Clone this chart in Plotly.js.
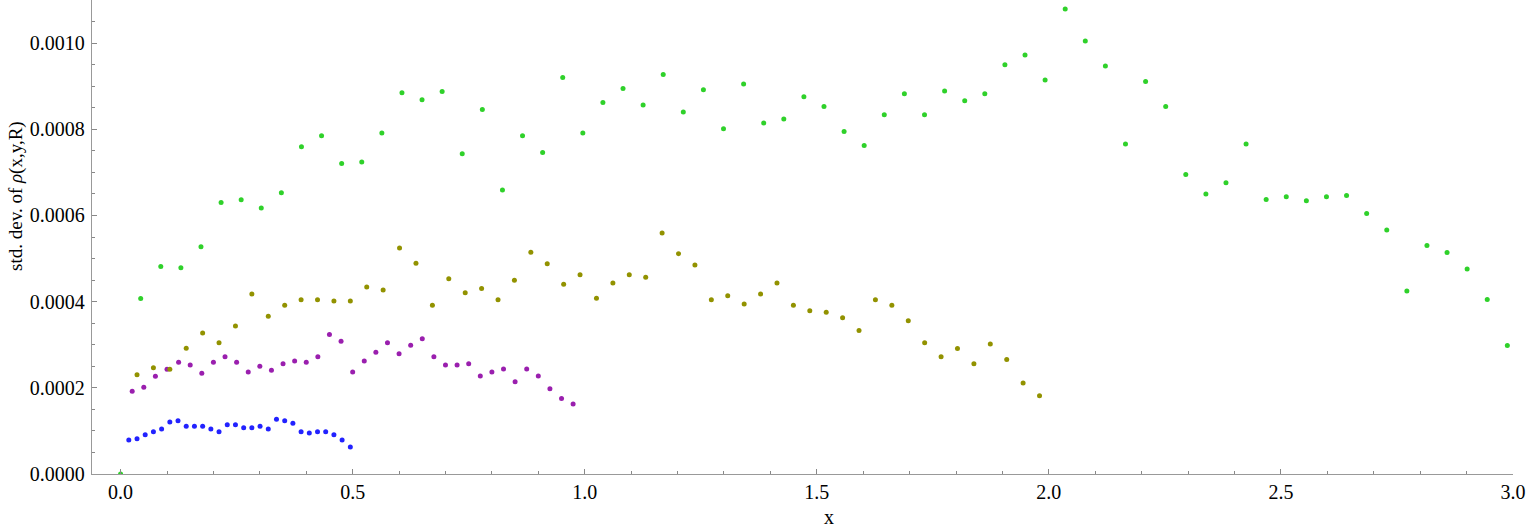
<!DOCTYPE html>
<html>
<head>
<meta charset="utf-8">
<script src="https://cdn.plot.ly/plotly-3.0.1.min.js"></script>
<style>
  html, body { margin: 0; padding: 0; background: #ffffff; }
  #chart { width: 1528px; height: 531px; }
</style>
</head>
<body>
<div id="chart"></div>
<script>
// ---- data ----
const blueX = [0.0177, 0.0354, 0.0530, 0.0707, 0.0884, 0.1061, 0.1237, 0.1414, 0.1591, 0.1768,
  0.1945, 0.2121, 0.2298, 0.2475, 0.2652, 0.2828, 0.3005, 0.3182, 0.3359, 0.3536,
  0.3712, 0.3889, 0.4066, 0.4243, 0.4419, 0.4596, 0.4773, 0.4950];
const blueY = [0.0000789, 0.0000819, 0.0000912, 0.0000982, 0.0001044, 0.0001206, 0.0001237, 0.0001106,
  0.0001106, 0.0001106, 0.0001044, 0.0000982, 0.0001144, 0.0001144, 0.0001075, 0.0001075,
  0.0001106, 0.0001044, 0.0001268, 0.0001237, 0.0001175, 0.0000982, 0.0000951, 0.0000982,
  0.0000982, 0.0000912, 0.0000789, 0.0000626];

const purpleX = [0.025, 0.050, 0.075, 0.100, 0.125, 0.150, 0.175, 0.200, 0.225, 0.250,
  0.275, 0.300, 0.325, 0.350, 0.375, 0.400, 0.425, 0.450, 0.475, 0.500,
  0.525, 0.550, 0.575, 0.600, 0.625, 0.650, 0.675, 0.700, 0.725, 0.750,
  0.775, 0.800, 0.825, 0.850, 0.875, 0.900, 0.925, 0.950, 0.975];
const purpleY = [0.0001918, 0.0002011, 0.0002266, 0.0002429, 0.0002595, 0.0002530, 0.0002336, 0.0002595,
  0.0002723, 0.0002595, 0.0002368, 0.0002498, 0.0002409, 0.0002560, 0.0002625, 0.0002595,
  0.0002723, 0.0003240, 0.0003078, 0.0002368, 0.0002625, 0.0002823, 0.0003048, 0.0002793,
  0.0002985, 0.0003141, 0.0002723, 0.0002530, 0.0002530, 0.0002560, 0.0002275, 0.0002368,
  0.0002437, 0.0002143, 0.0002437, 0.0002275, 0.0001980, 0.0001755, 0.0001625];

const oliveX = [0.0354, 0.0707, 0.1061, 0.1414, 0.1768, 0.2121, 0.2475, 0.2828, 0.3182, 0.3536,
  0.3889, 0.4243, 0.4596, 0.4950, 0.5303, 0.5657, 0.6010, 0.6364, 0.6718, 0.7071,
  0.7425, 0.7778, 0.8132, 0.8485, 0.8839, 0.9192, 0.9546, 0.9899, 1.0253, 1.0607,
  1.0960, 1.1314, 1.1667, 1.2021, 1.2374, 1.2728, 1.3081, 1.3435, 1.3789, 1.4142,
  1.4496, 1.4849, 1.5203, 1.5556, 1.5910, 1.6263, 1.6617, 1.6971, 1.7324, 1.7678,
  1.8031, 1.8385, 1.8738, 1.9092, 1.9445, 1.9799];
const oliveY = [0.0002305, 0.0002467, 0.0002433, 0.0002916, 0.0003273, 0.0003048, 0.0003435, 0.0004178,
  0.0003658, 0.0003914, 0.0004046, 0.0004046, 0.0004016, 0.0004016, 0.0004341, 0.0004271,
  0.0005246, 0.0004889, 0.0003914, 0.0004533, 0.0004208, 0.0004306, 0.0004046, 0.0004494,
  0.0005144, 0.0004882, 0.0004401, 0.0004626, 0.0004076, 0.0004434, 0.0004626, 0.0004564,
  0.0005594, 0.0005114, 0.0004851, 0.0004046, 0.0004139, 0.0003946, 0.0004178, 0.0004434,
  0.0003914, 0.0003791, 0.0003751, 0.0003628, 0.0003333, 0.0004046, 0.0003914, 0.0003557,
  0.0003046, 0.0002722, 0.0002914, 0.0002559, 0.0003016, 0.0002659, 0.0002111, 0.0001817];

const greenX = [0, 0.0433, 0.0866, 0.1299, 0.1732, 0.2165, 0.2598, 0.3031, 0.3464, 0.3897, 0.4330,
  0.4763, 0.5196, 0.5629, 0.6062, 0.6495, 0.6928, 0.7361, 0.7794, 0.8227, 0.8660,
  0.9093, 0.9526, 0.9959, 1.0392, 1.0825, 1.1258, 1.1691, 1.2124, 1.2557, 1.2990,
  1.3423, 1.3856, 1.4289, 1.4722, 1.5155, 1.5588, 1.6021, 1.6454, 1.6887, 1.7321,
  1.7754, 1.8187, 1.8620, 1.9053, 1.9486, 1.9919, 2.0352, 2.0785, 2.1218, 2.1651,
  2.2084, 2.2517, 2.2950, 2.3383, 2.3816, 2.4249, 2.4682, 2.5115, 2.5548, 2.5981,
  2.6414, 2.6847, 2.7280, 2.7713, 2.8146, 2.8579, 2.9012, 2.9445, 2.9878];
const greenY = [0, 0.0004074, 0.0004817, 0.0004787, 0.0005274, 0.0006302, 0.0006364, 0.0006172, 0.0006527,
  0.0007594, 0.0007849, 0.0007206, 0.0007239, 0.0007912, 0.0008847, 0.0008685, 0.0008877,
  0.0007432, 0.0008459, 0.0006589, 0.0007849, 0.0007462, 0.0009202, 0.0007912, 0.0008622,
  0.0008947, 0.0008561, 0.0009271, 0.0008399, 0.0008916, 0.0008012, 0.0009049, 0.0008144,
  0.0008237, 0.0008754, 0.0008529, 0.0007949, 0.0007624, 0.0008336, 0.0008824, 0.0008336,
  0.0008886, 0.0008661, 0.0008824, 0.0009497, 0.0009722, 0.0009142, 0.0010789, 0.0010046,
  0.0009466, 0.0007657, 0.0009109, 0.0008529, 0.0006951, 0.0006497, 0.0006759, 0.0007657,
  0.0006371, 0.0006434, 0.0006341, 0.0006434, 0.0006464, 0.0006046, 0.0005661, 0.0004246,
  0.0005304, 0.0005142, 0.0004756, 0.0004051, 0.0002984];

const seriesColors = ['#2222ff', '#9a1fae', '#929200', '#2fd12a'];
const xTitle = 'x';
const yTitle = 'std. dev. of <i>ρ</i>(x,y,R)';

// ---- chart ----
function pts(x, y, color) {
  return { x: x, y: y, type: 'scatter', mode: 'markers',
           marker: { color: color, size: 5, line: { width: 0 } },
           hoverinfo: 'x+y', showlegend: false };
}
const traces = [
  pts(blueX, blueY, seriesColors[0]),
  pts(purpleX, purpleY, seriesColors[1]),
  pts(oliveX, oliveY, seriesColors[2]),
  pts(greenX, greenY, seriesColors[3])
];

const serif = 'Liberation Serif, Times New Roman, serif';
const layout = {
  width: 1528, height: 531,
  margin: { l: 92, r: 15, t: 0, b: 57 },
  paper_bgcolor: '#ffffff', plot_bgcolor: '#ffffff',
  font: { family: serif, size: 20, color: '#000000' },
  xaxis: {
    range: [-0.0616, 3.0],
    tickmode: 'linear', tick0: 0, dtick: 0.5, tickformat: '.1f',
    ticks: 'inside', ticklen: 5, tickwidth: 1, tickcolor: '#888888',
    minor: { ticks: 'inside', dtick: 0.1, tick0: 0, ticklen: 3, tickcolor: '#888888', showgrid: false },
    showline: true, linecolor: '#999999', linewidth: 1.2,
    showgrid: false, zeroline: false,
    tickfont: { family: serif, size: 20 }
  },
  yaxis: {
    range: [0, 0.0011],
    tickmode: 'linear', tick0: 0, dtick: 0.0002, tickformat: '.4f',
    ticks: 'inside', ticklen: 5, tickwidth: 1, tickcolor: '#888888',
    minor: { ticks: 'inside', dtick: 0.00005, tick0: 0, ticklen: 3, tickcolor: '#888888', showgrid: false },
    showline: true, linecolor: '#999999', linewidth: 1.2,
    showgrid: false, zeroline: false,
    ticklabelstandoff: 2,
    tickfont: { family: serif, size: 20 }
  },
  annotations: [
    { text: xTitle, xref: 'paper', yref: 'paper', x: 0.5186, y: -0.0907,
      xanchor: 'center', yanchor: 'middle', showarrow: false,
      font: { family: serif, size: 20 } },
    { text: yTitle, xref: 'paper', yref: 'paper', x: -0.0535, y: 0.5865,
      xanchor: 'center', yanchor: 'middle', textangle: -90, showarrow: false,
      font: { family: serif, size: 19 } }
  ]
};

Plotly.newPlot('chart', traces, layout, { staticPlot: true, displayModeBar: false });
</script>
</body>
</html>
